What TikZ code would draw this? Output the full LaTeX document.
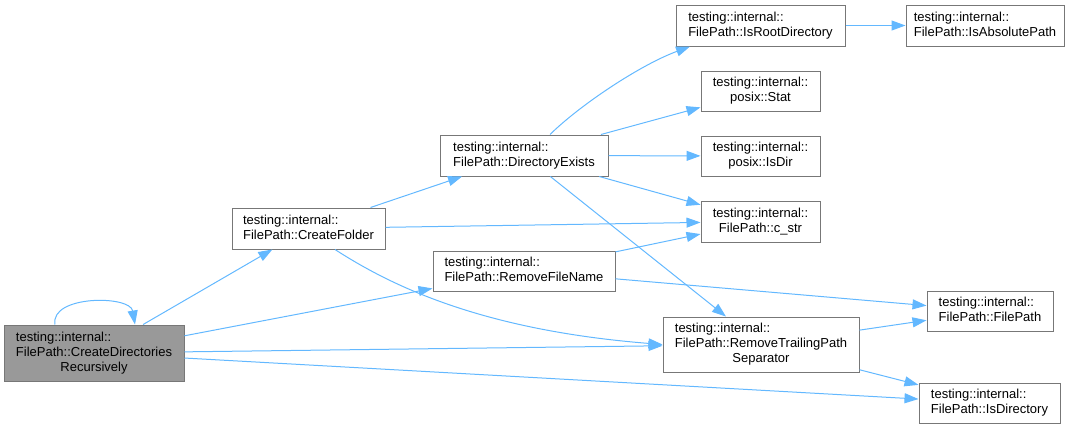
\documentclass[tikz,border=0pt]{standalone}
\usepackage{fontspec}
\setmainfont{Liberation Sans}
\usetikzlibrary{arrows.meta}
\definecolor{edgec}{HTML}{63B8FF}
\definecolor{bord}{HTML}{777777}
\definecolor{curfill}{HTML}{999999}
\newcommand{\nlab}[2]{\begin{tabular}{@{}l@{}}#1\\\multicolumn{1}{@{}c@{}}{#2}\end{tabular}}
\begin{document}
\begin{tikzpicture}[x=1pt,y=-1pt,
  box/.style={draw=bord, line width=1pt, fill=white, inner sep=0pt, rectangle,
    font=\fontsize{13}{15}\selectfont},
  e/.style={draw=edgec, line width=1pt, -{Triangle[length=14pt,width=10pt]}}]
\useasboundingbox (0,0) rectangle (1078,429);

\node[box, fill=curfill, minimum width=180pt, minimum height=56pt] (cdr) at (94,353)
  {\nlab{testing::internal::\\FilePath::CreateDirectories}{Recursively}};
\node[box, minimum width=153pt, minimum height=41pt] (cf) at (308.5,228.5)
  {\nlab{testing::internal::}{FilePath::CreateFolder}};
\node[box, minimum width=182pt, minimum height=40pt] (rfn) at (524,271)
  {\nlab{testing::internal::}{FilePath::RemoveFileName}};
\node[box, minimum width=168pt, minimum height=41pt] (de) at (524,155.5)
  {\nlab{testing::internal::}{FilePath::DirectoryExists}};
\node[box, minimum width=169pt, minimum height=41pt] (ird) at (760.5,25.5)
  {\nlab{testing::internal::}{FilePath::IsRootDirectory}};
\node[box, minimum width=158pt, minimum height=41pt] (iap) at (985,25.5)
  {\nlab{testing::internal::}{FilePath::IsAbsolutePath}};
\node[box, minimum width=119pt, minimum height=40pt] (stat) at (760.5,91)
  {\nlab{testing::internal::}{posix::Stat}};
\node[box, minimum width=119pt, minimum height=40pt] (isdir) at (760.5,156)
  {\nlab{testing::internal::}{posix::IsDir}};
\node[box, minimum width=119pt, minimum height=41pt] (cstr) at (760.5,221.5)
  {\nlab{testing::internal::}{FilePath::c\_str}};
\node[box, minimum width=196pt, minimum height=55pt] (rtps) at (761,344.5)
  {\nlab{testing::internal::\\FilePath::RemoveTrailingPath}{Separator}};
\node[box, minimum width=126pt, minimum height=40pt] (fp) at (990,311)
  {\nlab{testing::internal::}{FilePath::FilePath}};
\node[box, minimum width=141pt, minimum height=40pt] (isd) at (989.5,403)
  {\nlab{testing::internal::}{FilePath::IsDirectory}};

\draw[e] ([xshift=-39pt]cdr.north) .. controls (50,295) and (130,295) .. ([xshift=41pt]cdr.north);
\draw[e] (cdr) -- (cf);
\draw[e] (cdr) -- (rfn);
\draw[e] (cdr) -- (rtps);
\draw[e] (cdr) -- (isd);
\draw[e] (cf) -- (de);
\draw[e] (cf) -- (cstr);
\draw[e] ([xshift=26.5pt]cf.south) .. controls (390,285) and (480,330) .. (rtps.west);
\draw[e] (rfn) -- (cstr);
\draw[e] (rfn) -- (fp);
\draw[e] ([xshift=26pt]de.north) .. controls (580,105) and (640,65) .. ([xshift=-70.5pt]ird.south);
\draw[e] (de) -- (stat);
\draw[e] (de) -- (isdir);
\draw[e] (de) -- (cstr);
\draw[e] (de) -- (rtps);
\draw[e] (ird) -- (iap);
\draw[e] (rtps) -- (fp);
\draw[e] (rtps) -- (isd);
\end{tikzpicture}
\end{document}
